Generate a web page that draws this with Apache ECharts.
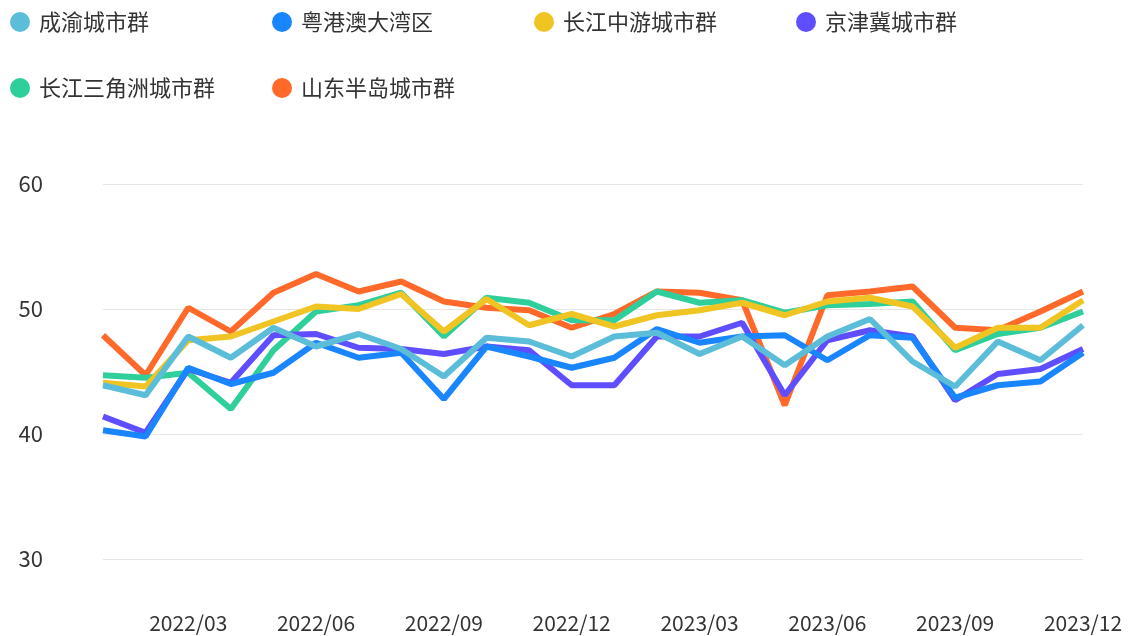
<!DOCTYPE HTML>
<html>
	<head>
		<meta http-equiv="Content-type" content="text/html; charset=UTF-8" />
		<script type="text/javascript" src="https://cdn.jsdelivr.net/npm/echarts@6/dist/echarts.min.js"></script>
		<style>
			html, body { margin: 0; padding: 0; background: #fff; }
		</style>
		<script type="text/javascript">
			var months = ['2022/01', '2022/02', '2022/03', '2022/04', '2022/05', '2022/06', '2022/07', '2022/08', '2022/09', '2022/10', '2022/11', '2022/12',
				'2023/01', '2023/02', '2023/03', '2023/04', '2023/05', '2023/06', '2023/07', '2023/08', '2023/09', '2023/10', '2023/11', '2023/12'];
			var names = ['成渝城市群', '粤港澳大湾区', '长江中游城市群', '京津冀城市群', '长江三角洲城市群', '山东半岛城市群'];
			var colors = ['#5bbdd8', '#1985ff', '#f0c422', '#5f4eff', '#2ecf9b', '#ff6a2b'];

			var chengyu = [43.9, 43.1, 47.8, 46.1, 48.5, 47.0, 48.0, 46.8, 44.6, 47.7, 47.4, 46.2, 47.8, 48.1, 46.4, 47.8, 45.5, 47.8, 49.2, 45.8, 43.8, 47.4, 45.9, 48.7];
			var yuegangao = [40.3, 39.8, 45.3, 44.0, 44.9, 47.3, 46.1, 46.5, 42.8, 47.0, 46.2, 45.3, 46.1, 48.4, 47.3, 47.8, 47.9, 45.9, 47.9, 47.7, 42.9, 43.9, 44.2, 46.5];
			var changjiangZhongyou = [44.1, 43.8, 47.5, 47.8, 49.0, 50.2, 50.0, 51.2, 48.2, 50.8, 48.7, 49.6, 48.6, 49.5, 49.9, 50.5, 49.5, 50.6, 50.9, 50.2, 46.9, 48.5, 48.5, 50.7];
			var jingjinji = [41.4, 40.1, 45.2, 44.1, 47.9, 48.0, 46.9, 46.8, 46.4, 47.0, 46.7, 43.9, 43.9, 47.8, 47.8, 48.9, 43.1, 47.5, 48.3, 47.8, 42.7, 44.8, 45.2, 46.8];
			var changsanjiao = [44.7, 44.5, 44.9, 42.0, 46.7, 49.8, 50.3, 51.3, 47.8, 50.9, 50.5, 49.1, 49.1, 51.4, 50.5, 50.7, 49.7, 50.3, 50.4, 50.6, 46.7, 48.0, 48.5, 49.8];
			var shandong = [47.9, 44.7, 50.1, 48.2, 51.3, 52.8, 51.4, 52.2, 50.6, 50.1, 49.9, 48.5, 49.6, 51.4, 51.3, 50.7, 42.3, 51.1, 51.4, 51.8, 48.5, 48.3, 49.8, 51.4];
			var yTicks = [30, 40, 50, 60];

			var allData = [chengyu, yuegangao, changjiangZhongyou, jingjinji, changsanjiao, shandong];
			var font = '"Noto Sans CJK SC", "Noto Sans", sans-serif';

			var series = [];
			for (var i = 0; i < names.length; i++) {
				series.push({
					name: names[i],
					type: 'line',
					data: allData[i],
					showSymbol: false,
					symbol: 'circle',
					z: 10 - i, // first series drawn on top
					lineStyle: { width: 6, color: colors[i] },
					itemStyle: { color: colors[i] }
				});
			}

			var option = {
				animation: false,
				color: colors,
				legend: {
					left: 10,
					top: 0,
					padding: 0,
					width: 1110,
					icon: 'circle',
					itemWidth: 20,
					itemHeight: 20,
					itemGap: 22,
					textStyle: {
						fontFamily: font,
						fontSize: 22,
						color: '#333',
						width: 211,
						lineHeight: 44,
						padding: [0, 0, 0, 4]
					},
					data: names
				},
				grid: { left: 103, right: 46, top: 184, bottom: 77 },
				xAxis: {
					type: 'category',
					boundaryGap: false,
					data: months,
					axisLine: { show: false },
					axisTick: { show: false },
					axisLabel: {
						interval: function (idx) { return idx % 3 === 2; },
						margin: 54,
						fontFamily: font,
						fontSize: 21,
						color: '#333'
					}
				},
				yAxis: {
					type: 'value',
					min: yTicks[0],
					max: yTicks[yTicks.length - 1],
					interval: 10,
					axisLine: { show: false },
					axisTick: { show: false },
					axisLabel: {
						margin: 60,
						fontFamily: font,
						fontSize: 22,
						color: '#333'
					},
					splitLine: { lineStyle: { color: '#e6e6e6', width: 1 } }
				},
				series: series
			};

			window.onload = function () {
				var myChart = echarts.init(document.getElementById('div_1'));
				myChart.setOption(option);
			};
		</script>
	</head>
	<body>
		<div id="div_1" style="width: 1129px;height:636px;"></div>
	</body>
</html>
